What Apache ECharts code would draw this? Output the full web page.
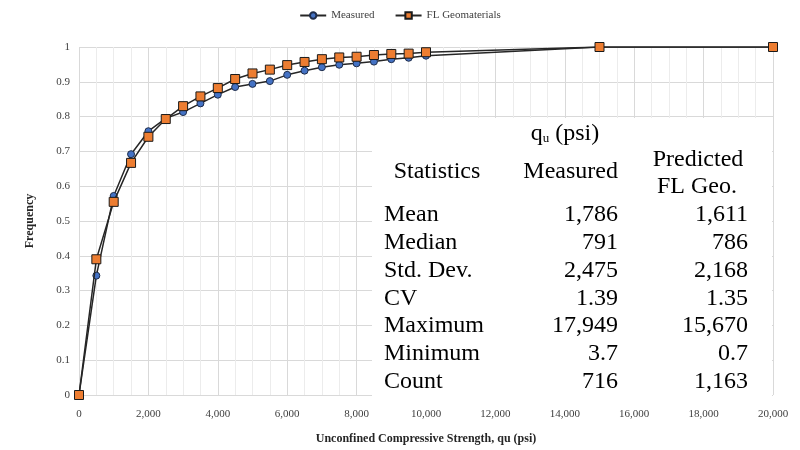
<!DOCTYPE html>
<html>
<head>
<meta charset="utf-8">
<script src="https://cdn.jsdelivr.net/npm/echarts@6/dist/echarts.min.js"></script>
<style>html,body{margin:0;padding:0;background:#fff}#c{width:800px;height:450px}</style>
</head>
<body>
<div id="c"></div>
<script>
// ---- data ----
const xValues = [0,500,1000,1500,2000,2500,3000,3500,4000,4500,5000,5500,6000,6500,7000,7500,8000,8500,9000,9500,10000,15000,20000];
const measured = [0,0.343,0.572,0.692,0.758,0.795,0.813,0.838,0.863,0.885,0.894,0.902,0.92,0.932,0.942,0.949,0.953,0.958,0.965,0.969,0.975,1,1];
const flGeo = [0,0.39,0.555,0.667,0.742,0.793,0.83,0.858,0.882,0.908,0.924,0.935,0.948,0.957,0.965,0.97,0.972,0.977,0.98,0.981,0.985,1,1];
const seriesNames = ['Measured','FL Geomaterials'];
const statLabels = ['Mean','Median','Std. Dev.','CV','Maximum','Minimum','Count'];
const statMeasured = ['1,786','791','2,475','1.39','17,949','3.7','716'];
const statPredicted = ['1,611','786','2,168','1.35','15,670','0.7','1,163'];

const serif = '"Liberation Serif", "DejaVu Serif", serif';
const chart = echarts.init(document.getElementById('c'));

const tableFont = 24;
const rowY0 = 215, rowStep = 27.8;
const graphics = [{
  type: 'rect', z: 50,
  shape: {x: 372, y: 118, width: 400, height: 279},
  style: {fill: '#ffffff'}
}];
function txt(text, x, y, align, extra) {
  return Object.assign({
    type: 'text', z: 60,
    x: x, y: y,
    style: {text: text, font: tableFont + 'px ' + serif, fill: '#000', align: align, verticalAlign: 'middle'}
  }, extra || {});
}
graphics.push({
  type: 'text', z: 60, x: 565, y: 134,
  style: {
    text: '{a|q}{b|u}{a| (psi)}', align: 'center', verticalAlign: 'middle',
    rich: {
      a: {fontFamily: serif, fontSize: tableFont, fill: '#000'},
      b: {fontFamily: serif, fontSize: 13, fill: '#000', padding: [10, 0, 0, 0]}
    }
  }
});
graphics.push(txt('Statistics', 437, 172, 'center'));
graphics.push(txt('Measured', 618, 172, 'right'));
graphics.push(txt('Predicted', 698, 160, 'center'));
graphics.push(txt('FL Geo.', 697, 187, 'center'));
statLabels.forEach((lab, i) => {
  const y = rowY0 + i * rowStep;
  graphics.push(txt(lab, 384, y, 'left'));
  graphics.push(txt(statMeasured[i], 618, y, 'right'));
  graphics.push(txt(statPredicted[i], 748, y, 'right'));
});

chart.setOption({
  animation: false,
  backgroundColor: '#fff',
  legend: {
    top: 5, left: 'center',
    itemWidth: 26, itemHeight: 8, itemGap: 20,
    textStyle: {fontFamily: serif, fontSize: 11, color: '#404040'},
    data: seriesNames
  },
  grid: {left: 79, right: 27, top: 47, bottom: 52},
  xAxis: {
    type: 'value', min: 0, max: 20000, interval: 2000,
    name: 'Unconfined Compressive Strength, qu (psi)',
    nameLocation: 'middle', nameGap: 38,
    nameTextStyle: {fontFamily: serif, fontSize: 12, fontWeight: 'bold', color: '#262626'},
    axisLine: {show: false}, axisTick: {show: false},
    axisLabel: {margin: 14, fontFamily: serif, fontSize: 11, color: '#404040',
      formatter: v => v.toLocaleString('en-US')},
    splitLine: {show: true, lineStyle: {color: '#d9d9d9', width: 1}},
    minorTick: {show: false, splitNumber: 4},
    minorSplitLine: {show: true, lineStyle: {color: '#ececec', width: 1}}
  },
  yAxis: {
    type: 'value', min: 0, max: 1, interval: 0.1,
    name: 'Frequency', nameLocation: 'middle', nameGap: 43,
    nameTextStyle: {fontFamily: serif, fontSize: 12, fontWeight: 'bold', color: '#262626'},
    axisLine: {show: false}, axisTick: {show: false},
    axisLabel: {margin: 9, fontFamily: serif, fontSize: 11, color: '#404040',
      formatter: v => String(Math.round(v * 10) / 10)},
    splitLine: {show: true, lineStyle: {color: '#d9d9d9', width: 1}}
  },
  series: [
    {
      name: seriesNames[0], type: 'line',
      data: xValues.map((x, i) => [x, measured[i]]),
      symbol: 'circle', symbolSize: 7,
      lineStyle: {color: '#262626', width: 1.5},
      itemStyle: {color: '#4472C4', borderColor: '#1f2d4a', borderWidth: 1},
      z: 3
    },
    {
      name: seriesNames[1], type: 'line',
      data: xValues.map((x, i) => [x, flGeo[i]]),
      symbol: 'rect', symbolSize: 9,
      lineStyle: {color: '#262626', width: 1.5},
      itemStyle: {color: '#ED7D31', borderColor: '#1a1a1a', borderWidth: 1},
      z: 4
    }
  ],
  graphic: graphics
});
</script>
</body>
</html>
